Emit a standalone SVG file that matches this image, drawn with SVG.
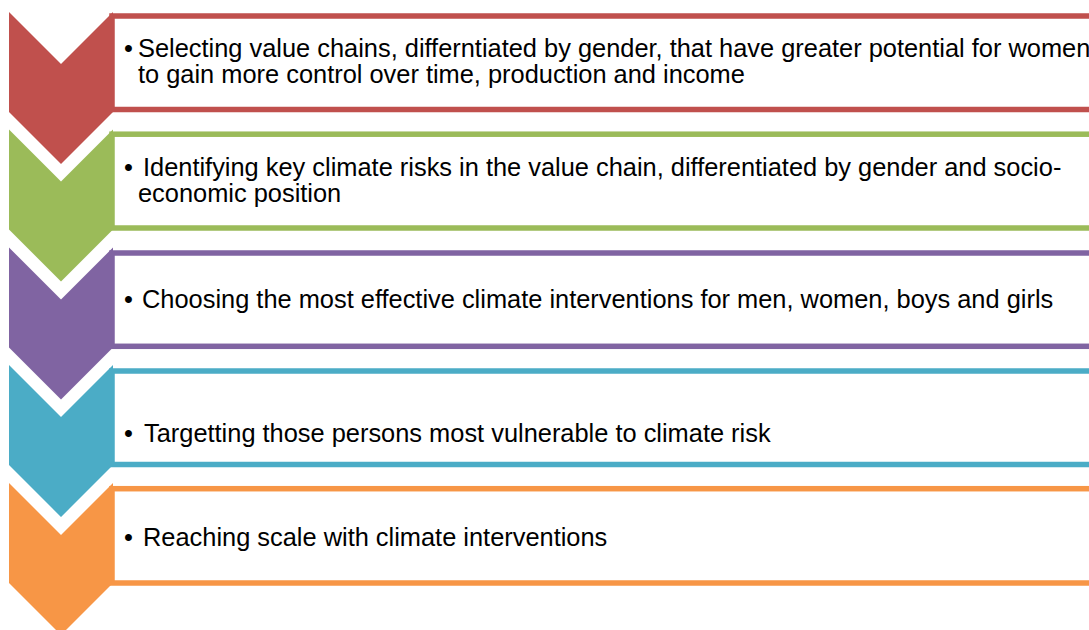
<svg xmlns="http://www.w3.org/2000/svg" width="1089" height="630" viewBox="0 0 1089 630">
<style>
.box{fill:#ffffff;stroke-width:5.5}
text{font-family:"Liberation Sans",Arial,sans-serif;font-size:25.4px;fill:#000000}
</style>
<rect width="1089" height="630" fill="#ffffff"/>
<g id="step1">
<rect class="box" x="112" y="16" width="1000" height="93.5" stroke="#C0504D"/>
<polygon points="9,12 61,64 113,12 113,112 61,164 9,112" fill="#C0504D"/>
<text><tspan x="124" y="57">•</tspan><tspan x="138" y="57">Selecting value chains, differntiated by gender, that have greater potential for women</tspan><tspan x="138" y="83">to gain more control over time, production and income</tspan></text>
</g>
<g id="step2">
<rect class="box" x="112" y="134.2" width="1000" height="93.8" stroke="#9BBB59"/>
<polygon points="9,129.5 61,181.5 113,129.5 113,229.5 61,281.5 9,229.5" fill="#9BBB59"/>
<text><tspan x="124" y="176">•</tspan><tspan x="143" y="176">Identifying key climate risks in the value chain, differentiated by gender and socio-</tspan><tspan x="138" y="202">economic position</tspan></text>
</g>
<g id="step3">
<rect class="box" x="112" y="253" width="1000" height="93.3" stroke="#8064A2"/>
<polygon points="9,247.5 61,299.5 113,247.5 113,347.5 61,399.5 9,347.5" fill="#8064A2"/>
<text><tspan x="124" y="308">•</tspan><tspan x="142" y="308">Choosing the most effective climate interventions for men, women, boys and girls</tspan></text>
</g>
<g id="step4">
<rect class="box" x="112" y="371" width="1000" height="93.5" stroke="#4BACC6"/>
<polygon points="9,365 61,417 113,365 113,465 61,517 9,465" fill="#4BACC6"/>
<text><tspan x="124" y="442">•</tspan><tspan x="144" y="442">Targetting those persons most vulnerable to climate risk</tspan></text>
</g>
<g id="step5">
<rect class="box" x="112" y="488.7" width="1000" height="94.3" stroke="#F79646"/>
<polygon points="9,483 61,535 113,483 113,583 61,635 9,583" fill="#F79646"/>
<text><tspan x="124" y="546">•</tspan><tspan x="143" y="546">Reaching scale with climate interventions</tspan></text>
</g>
<g id="connectors"/>
</svg>
